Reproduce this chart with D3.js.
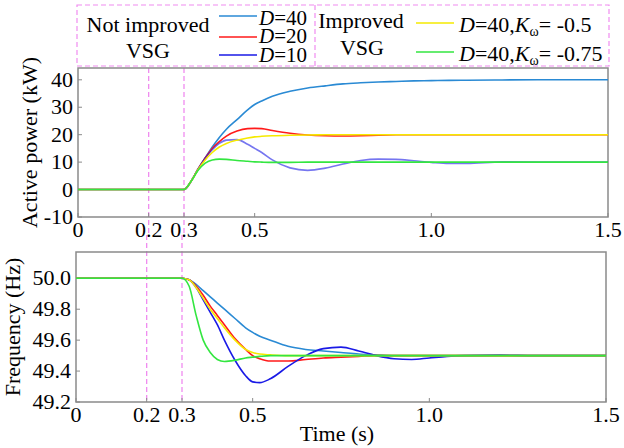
<!DOCTYPE html>
<html>
<head>
<meta charset="utf-8">
<script src="https://cdn.jsdelivr.net/npm/d3@7"></script>
<style>
  body { margin: 0; background: #fff; }
</style>
</head>
<body>
<div id="chart"></div>
<script>
//data (time in s)
const time = [0, 0.3, 0.32, 0.34, 0.36, 0.38, 0.40, 0.42, 0.45, 0.48, 0.50, 0.52, 0.55, 0.60, 0.65, 0.70, 0.75, 0.80, 0.85, 0.90, 0.95, 1.0, 1.05, 1.1, 1.2, 1.3, 1.5];

//active power (kW)
const powerD40 = [0, 0, 3, 7.5, 11.5, 15.5, 19, 22, 25.5, 29, 31, 32.3, 34, 35.8, 37, 37.8, 38.5, 38.9, 39.2, 39.4, 39.6, 39.7, 39.8, 39.85, 39.95, 40, 40];
const powerD20 = [0, 0, 3, 7.5, 11.5, 15, 17.5, 19.5, 21.3, 22.2, 22.3, 22.2, 21.5, 20.5, 19.9, 19.6, 19.5, 19.6, 19.8, 19.95, 20, 20, 20, 20, 20, 20, 20];
const powerD10 = [0, 0, 3, 7.5, 11.5, 14.5, 16.8, 18, 18.2, 16.5, 15, 13.5, 10.8, 7.9, 7.0, 7.8, 9.3, 10.6, 11.1, 11, 10.5, 9.9, 9.5, 9.5, 10.1, 10.05, 10];
const powerK05 = [0, 0, 3, 7.3, 10.8, 13.5, 15.5, 16.8, 18, 18.8, 19.2, 19.4, 19.6, 19.8, 19.9, 19.95, 20, 20, 20, 20, 20, 20, 20, 20, 20, 20, 20];
const powerK075 = [0, 0, 3, 7, 9.6, 10.8, 11.1, 11, 10.6, 10.3, 10.1, 10, 9.9, 9.9, 10, 10, 10, 10, 10, 10, 10, 10, 10, 10, 10, 10, 10];

//frequency (Hz)
const freqD40 = [50, 50, 49.99, 49.96, 49.92, 49.88, 49.84, 49.8, 49.74, 49.68, 49.65, 49.625, 49.6, 49.56, 49.54, 49.53, 49.52, 49.51, 49.505, 49.5, 49.5, 49.5, 49.5, 49.5, 49.5, 49.5, 49.5];
const freqD20 = [50, 50, 49.99, 49.95, 49.89, 49.82, 49.76, 49.7, 49.61, 49.54, 49.5, 49.48, 49.465, 49.465, 49.475, 49.485, 49.49, 49.495, 49.5, 49.5, 49.5, 49.5, 49.5, 49.5, 49.5, 49.5, 49.5];
const freqD10 = [50, 50, 49.99, 49.94, 49.86, 49.78, 49.7, 49.6, 49.47, 49.37, 49.33, 49.325, 49.35, 49.43, 49.5, 49.545, 49.555, 49.53, 49.5, 49.48, 49.475, 49.485, 49.495, 49.5, 49.503, 49.5, 49.5];
const freqK05 = [50, 50, 49.99, 49.94, 49.87, 49.8, 49.74, 49.68, 49.6, 49.54, 49.52, 49.51, 49.505, 49.5, 49.5, 49.5, 49.5, 49.5, 49.5, 49.5, 49.5, 49.5, 49.5, 49.5, 49.5, 49.5, 49.5];
const freqK075 = [50, 50, 49.95, 49.76, 49.6, 49.52, 49.475, 49.462, 49.47, 49.485, 49.49, 49.495, 49.5, 49.5, 49.5, 49.5, 49.5, 49.5, 49.5, 49.5, 49.5, 49.5, 49.5, 49.5, 49.5, 49.5, 49.5];

//ticks
const timeTicks = [0, 0.2, 0.3, 0.5, 1.0, 1.5];
const timeTickLabels = ["0", "0.2", "0.3", "0.5", "1.0", "1.5"];
const powerTicks = [-10, 0, 10, 20, 30, 40];
const powerTickLabels = ["-10", "0", "10", "20", "30", "40"];
const freqTicks = [49.2, 49.4, 49.6, 49.8, 50.0];
const freqTickLabels = ["49.2", "49.4", "49.6", "49.8", "50.0"];
const markTimes = [0.2, 0.3];

//series (drawing order)
const seriesPower = [powerD40, powerD20, powerD10, powerK05, powerK075];
const seriesFreq = [freqD40, freqD20, freqD10, freqK05, freqK075];
const colors = ["#2a8ad4", "#ff1a1a", "#1a1ae6", "#f5ea00", "#33e640"];

const W = 624, H = 448;
const pink = "#f08cf0";
const frame = "#8a8a8a";
const serif = "Liberation Serif, Times New Roman, DejaVu Serif, serif";

const svg = d3.select("#chart").append("svg")
  .attr("width", W)
  .attr("height", H)
  .attr("font-family", serif);

//one panel: scales, frame, ticks, lines
function panel(opt) {
  const x = d3.scaleLinear().domain([0, 1.5]).range([opt.left, opt.right]);
  const y = d3.scaleLinear().domain(opt.domain).range([opt.bottom, opt.top]);
  const g = svg.append("g");

  g.append("clipPath").attr("id", opt.id)
    .append("rect")
    .attr("x", opt.left).attr("y", opt.top)
    .attr("width", opt.right - opt.left).attr("height", opt.bottom - opt.top);

  //dashed marker lines at 0.2 and 0.3 s
  markTimes.forEach(t =>
    g.append("line")
      .attr("x1", x(t)).attr("x2", x(t))
      .attr("y1", opt.dashTop).attr("y2", opt.dashBottom)
      .attr("stroke", pink).attr("stroke-width", 1.3)
      .attr("stroke-dasharray", "5,3")
  );

  //frame
  g.append("rect")
    .attr("x", opt.left).attr("y", opt.top)
    .attr("width", opt.right - opt.left).attr("height", opt.bottom - opt.top)
    .attr("fill", "none").attr("stroke", frame).attr("stroke-width", 1.5);

  //x ticks (inward)
  timeTicks.forEach((t, i) => {
    g.append("line")
      .attr("x1", x(t)).attr("x2", x(t))
      .attr("y1", opt.bottom).attr("y2", opt.bottom - 4)
      .attr("stroke", frame);
    g.append("text")
      .attr("x", x(t)).attr("y", opt.bottom + 20)
      .attr("text-anchor", "middle")
      .attr("font-size", 22)
      .text(timeTickLabels[i]);
  });

  //y ticks (inward)
  opt.ticks.forEach((v, i) => {
    g.append("line")
      .attr("x1", opt.left).attr("x2", opt.left + 4)
      .attr("y1", y(v)).attr("y2", y(v))
      .attr("stroke", frame);
    g.append("text")
      .attr("x", opt.left - 5).attr("y", y(v) + 7)
      .attr("text-anchor", "end")
      .attr("font-size", 22)
      .text(opt.tickLabels[i]);
  });

  //y title
  g.append("text")
    .attr("transform", `translate(${opt.titleX},${(opt.top + opt.bottom) / 2}) rotate(-90)`)
    .attr("text-anchor", "middle")
    .attr("font-size", 22)
    .text(opt.title);

  let line = d3.line()
    .x((d, i) => x(time[i]))
    .y(d => y(d))
    .curve(d3.curveMonotoneX);

  const lines = g.append("g").attr("clip-path", `url(#${opt.id})`);
  opt.series.forEach((s, i) => {
    lines.append("path")
      .datum(s)
      .attr("d", line)
      .attr("fill", "none")
      .attr("stroke", colors[i])
      .attr("stroke-width", 1.6)
      .attr("stroke-opacity", (opt.fadeD10 && i === 2) ? 0.6 : 1);
  });
}

panel({
  id: "clipP", left: 78, right: 608, top: 68, bottom: 217,
  domain: [-10, 44.3], ticks: powerTicks, tickLabels: powerTickLabels,
  title: "Active power (kW)", titleX: 37, series: seriesPower,
  dashTop: 68, dashBottom: 235, fadeD10: true
});

panel({
  id: "clipF", left: 76, right: 606, top: 252, bottom: 402,
  domain: [49.2, 50.17], ticks: freqTicks, tickLabels: freqTickLabels,
  title: "Frequency (Hz)", titleX: 20, series: seriesFreq,
  dashTop: 235, dashBottom: 402, fadeD10: false
});

//x title
svg.append("text")
  .attr("x", 337).attr("y", 441)
  .attr("text-anchor", "middle")
  .attr("font-size", 22)
  .text("Time (s)");

//legend box
const lg = svg.append("g");
lg.append("rect")
  .attr("x", 77).attr("y", 5).attr("width", 532).attr("height", 61)
  .attr("fill", "none").attr("stroke", pink).attr("stroke-width", 1.2)
  .attr("stroke-dasharray", "5,3");
lg.append("line")
  .attr("x1", 315).attr("x2", 315).attr("y1", 5).attr("y2", 66)
  .attr("stroke", pink).attr("stroke-width", 1.2)
  .attr("stroke-dasharray", "5,3");

function legendText(x, y, txt, anchor) {
  lg.append("text").attr("x", x).attr("y", y)
    .attr("text-anchor", anchor || "start")
    .attr("font-size", 22).text(txt);
}
legendText(148, 32, "Not improved", "middle");
legendText(148, 58, "VSG", "middle");
legendText(361, 28, "Improved", "middle");
legendText(362, 55, "VSG", "middle");

//stacked D labels sit tight like the reference
const leftItems = [["40", 16, 25], ["20", 37, 43], ["10", 55, 62]];
leftItems.forEach((d, i) => {
  lg.append("line")
    .attr("x1", 219).attr("x2", 257).attr("y1", d[1]).attr("y2", d[1])
    .attr("stroke", colors[i]).attr("stroke-width", 1.6);
  const t = lg.append("text").attr("x", 259).attr("y", d[2]).attr("font-size", 21);
  t.append("tspan").attr("font-style", "italic").text("D");
  t.append("tspan").text("=" + d[0]);
});

const rightItems = [["-0.5", 23, 32, 3], ["-0.75", 52, 61, 4]];
rightItems.forEach(d => {
  lg.append("line")
    .attr("x1", 416).attr("x2", 454).attr("y1", d[1]).attr("y2", d[1])
    .attr("stroke", colors[d[3]]).attr("stroke-width", 1.6);
  const t = lg.append("text").attr("x", 459).attr("y", d[2]).attr("font-size", 22);
  t.append("tspan").attr("font-style", "italic").text("D");
  t.append("tspan").text("=40,");
  t.append("tspan").attr("font-style", "italic").text("K");
  t.append("tspan").attr("font-size", 14).attr("dy", 4).text("ω");
  t.append("tspan").attr("dy", -4).text("= " + d[0]);
});
</script>
</body>
</html>
